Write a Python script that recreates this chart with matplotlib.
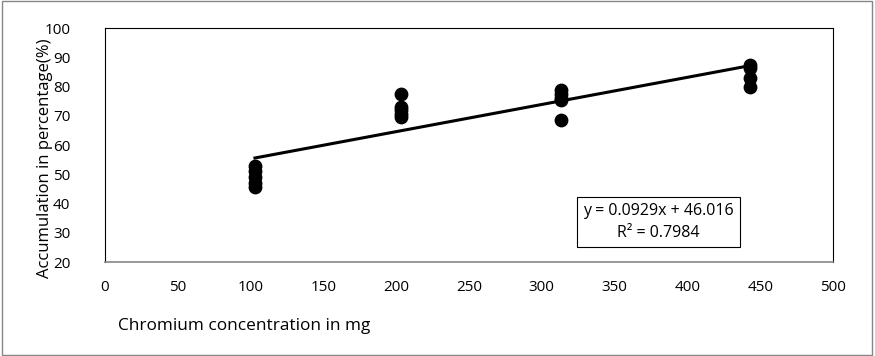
import matplotlib.pyplot as plt
from matplotlib.patches import Rectangle

plt.rcParams['font.family'] = ['Open Sans', 'DejaVu Sans']

# concentration (mg) and accumulation (%)
conc = [103, 103, 103, 103, 103,
        203, 203, 203, 203, 203,
        313, 313, 313, 313, 313,
        443, 443, 443, 443]
accum = [53, 51, 49, 47, 45.5,
         77.5, 73, 72, 70.5, 69.5,
         79, 77.5, 76, 75.5, 68.5,
         87.5, 86.5, 83, 80]
slope = 0.0929
intercept = 46.016
x_ticks = [0, 50, 100, 150, 200, 250, 300, 350, 400, 450, 500]
y_ticks = [20, 30, 40, 50, 60, 70, 80, 90, 100]

fig = plt.figure(figsize=(8.75, 3.56), dpi=100)
ax = fig.add_axes([0.12, 0.264, 0.832, 0.657])

ax.scatter(conc, accum, s=80, color='black', zorder=3)
xs = [min(conc), max(conc)]
ax.plot(xs, [slope * v + intercept for v in xs], color='black', lw=2.2, zorder=2)

ax.set_xlim(0, 500)
ax.set_ylim(20, 100)
ax.set_xticks(x_ticks)
ax.set_yticks(y_ticks)
ax.tick_params(length=0, labelsize=11)
ax.tick_params(axis='x', pad=13)
ax.tick_params(axis='y', pad=25)
for s in ['left', 'top', 'right']:
    ax.spines[s].set_linewidth(0.8)
ax.spines['bottom'].set_color('#868686')
ax.spines['bottom'].set_linewidth(1.2)

ax.text(0.76, 0.171, 'y = 0.0929x + 46.016\nR² = 0.7984', transform=ax.transAxes,
        ha='center', va='center', fontsize=11.5, linespacing=1.45,
        bbox=dict(boxstyle='square,pad=0.4', fc='white', ec='black', lw=0.8))

fig.text(0.135, 0.084, 'Chromium concentration in mg', fontsize=12.4, va='center')
fig.text(0.052, 0.556, 'Accumulation in percentage(%)', fontsize=12, rotation=90,
         ha='center', va='center')

fig.patches.append(Rectangle((0.002, 0.003), 0.995, 0.993, transform=fig.transFigure,
                             fill=False, ec='#868686', lw=1))

fig.savefig('out.png', dpi=100)
